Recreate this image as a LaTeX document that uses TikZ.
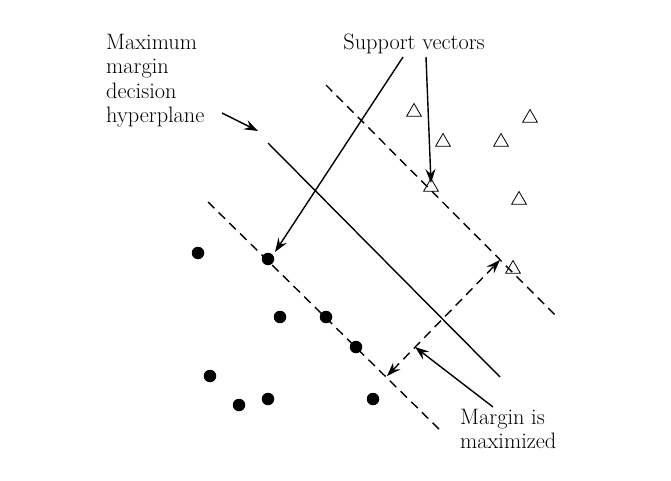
\documentclass[tikz,border=0pt]{standalone}
\usetikzlibrary{arrows.meta,shapes.geometric}
\begin{document}
\begin{tikzpicture}[x=1pt,y=-1pt,
  lbl/.style={inner sep=0pt,font=\fontsize{22.3}{24.5}\selectfont,align=left},
  plane/.style={line width=1.4pt},
  mplane/.style={line width=1.4pt,dash pattern=on 9pt off 6pt},
  arr/.style={line width=1.4pt,-{Stealth[length=14pt,width=10pt,inset=5pt]}},
  darr/.style={line width=1.4pt,dash pattern=on 9pt off 6pt,{Stealth[length=14pt,width=10pt,inset=5pt]}-{Stealth[length=14pt,width=10pt,inset=5pt]}},
  tripoint/.style={regular polygon,regular polygon sides=3,draw,line width=0.8pt,minimum size=17pt,inner sep=0pt},
  dotpoint/.style={circle,fill=black,minimum size=12.5pt,inner sep=0pt}]
\useasboundingbox (0,0) rectangle (671,481);
% labels
\node[lbl,anchor=north west] (hyp) at (106,34) {Maximum\\margin\\decision\\hyperplane};
\node[lbl,anchor=north] (sv) at (414,34) {Support vectors};
\node[lbl,anchor=north west] (mar) at (460,409) {Margin is\\maximized};
% hyperplanes
\coordinate (h1) at (268,143); \coordinate (h2) at (500,377);
\coordinate (l1) at (208,202); \coordinate (l2) at (443,433);
\coordinate (u1) at (326,85);  \coordinate (u2) at (558,318);
\draw[plane] (h1) -- (h2);
\draw[mplane] (l1) -- (l2);
\draw[mplane] (u1) -- (u2);
% points
\node[dotpoint] (n1) at (198,253) {};
\node[dotpoint] (n2) at (268,259) {};
\node[dotpoint] (n3) at (280,317) {};
\node[dotpoint] (n4) at (326,317) {};
\node[dotpoint] (n5) at (356,347) {};
\node[dotpoint] (n6) at (210,376) {};
\node[dotpoint] (n7) at (239,405) {};
\node[dotpoint] (n8) at (268,399) {};
\node[dotpoint] (n9) at (373,399) {};
\node[tripoint] (p1) at (414,112) {};
\node[tripoint] (p2) at (443,142) {};
\node[tripoint] (p3) at (501,142) {};
\node[tripoint] (p4) at (530,118) {};
\node[tripoint] (p5) at (519,200) {};
\node[tripoint] (p6) at (431,187) {};
\node[tripoint] (p7) at (513,269) {};
% arrows
\coordinate (ha) at (222,113); \coordinate (hb) at (258,131);
\draw[arr] (ha) -- (hb);
\coordinate (s1) at (403,57); \coordinate (s1e) at (275,252);
\coordinate (s2) at (426,57); \coordinate (s2e) at (431,183);
\draw[arr] (s1) -- (s1e);
\draw[arr] (s2) -- (s2e);
\coordinate (m1) at (387,376); \coordinate (m2) at (500,260);
\draw[darr] (m1) -- (m2);
\coordinate (ma) at (493,407); \coordinate (mb) at (415,347);
\draw[arr] (ma) -- (mb);
\end{tikzpicture}
\end{document}
